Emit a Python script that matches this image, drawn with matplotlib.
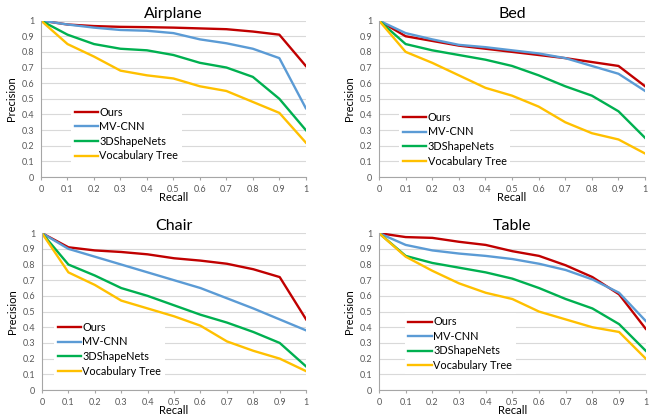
import matplotlib
matplotlib.use('Agg')
import matplotlib.pyplot as plt

plt.rcParams['font.family'] = ['Lato', 'DejaVu Sans']

recall = [0, 0.1, 0.2, 0.3, 0.4, 0.5, 0.6, 0.7, 0.8, 0.9, 1]
tick_labels = ['0', '0.1', '0.2', '0.3', '0.4', '0.5', '0.6', '0.7', '0.8', '0.9', '1']
methods = ['Ours', 'MV-CNN', '3DShapeNets', 'Vocabulary Tree']
colors = ['#C00000', '#5B9BD5', '#00B050', '#FFC000']

airplane = [
    [1, 0.975, 0.965, 0.96, 0.958, 0.955, 0.95, 0.945, 0.93, 0.91, 0.71],
    [1, 0.975, 0.955, 0.94, 0.935, 0.92, 0.88, 0.855, 0.82, 0.76, 0.44],
    [1, 0.91, 0.85, 0.82, 0.81, 0.78, 0.73, 0.70, 0.64, 0.50, 0.30],
    [1, 0.85, 0.77, 0.68, 0.65, 0.63, 0.58, 0.55, 0.48, 0.41, 0.22],
]
bed = [
    [1, 0.90, 0.87, 0.84, 0.82, 0.80, 0.78, 0.76, 0.735, 0.71, 0.58],
    [1, 0.92, 0.88, 0.845, 0.83, 0.81, 0.79, 0.76, 0.71, 0.66, 0.55],
    [1, 0.85, 0.81, 0.78, 0.75, 0.71, 0.65, 0.58, 0.52, 0.42, 0.25],
    [1, 0.80, 0.73, 0.65, 0.57, 0.52, 0.45, 0.35, 0.28, 0.24, 0.15],
]
chair = [
    [1, 0.91, 0.89, 0.88, 0.865, 0.84, 0.825, 0.805, 0.77, 0.72, 0.45],
    [1, 0.90, 0.85, 0.80, 0.75, 0.70, 0.65, 0.585, 0.52, 0.45, 0.38],
    [1, 0.80, 0.73, 0.65, 0.60, 0.54, 0.48, 0.43, 0.37, 0.30, 0.15],
    [1, 0.75, 0.67, 0.57, 0.52, 0.47, 0.41, 0.31, 0.25, 0.20, 0.12],
]
table = [
    [1, 0.975, 0.97, 0.945, 0.925, 0.885, 0.855, 0.795, 0.72, 0.61, 0.39],
    [1, 0.925, 0.89, 0.87, 0.855, 0.835, 0.805, 0.765, 0.705, 0.62, 0.44],
    [1, 0.855, 0.81, 0.78, 0.75, 0.71, 0.65, 0.58, 0.52, 0.42, 0.25],
    [1, 0.85, 0.76, 0.68, 0.62, 0.58, 0.50, 0.45, 0.40, 0.37, 0.20],
]

# (title, data, axes rect, legend anchor)
panels = [
    ('Airplane', airplane, [0.0632, 0.5745, 0.408, 0.376], (0.094, 0.505)),
    ('Bed', bed, [0.584, 0.5745, 0.41, 0.376], (0.056, 0.472)),
    ('Chair', chair, [0.0647, 0.0625, 0.407, 0.377], (0.026, 0.49)),
    ('Table', table, [0.584, 0.0625, 0.411, 0.377], (0.078, 0.525)),
]

fig = plt.figure(figsize=(6.49, 4.16), dpi=100)

for title, series, rect, leg_pos in panels:
    ax = fig.add_axes(rect)
    for vals, name, c in zip(series, methods, colors):
        ax.plot(recall, vals, color=c, linewidth=1.7, label=name)
    ax.set_xlim(0, 1)
    ax.set_ylim(0, 1)
    ax.set_xticks(recall)
    ax.set_xticklabels(tick_labels)
    ax.set_yticks(recall)
    ax.set_yticklabels(tick_labels)
    ax.grid(True, axis='y', color='#D9D9D9', linewidth=0.8)
    ax.set_axisbelow(True)
    for s in ['top', 'right']:
        ax.spines[s].set_visible(False)
    for s in ['left', 'bottom']:
        ax.spines[s].set_color('#A6A6A6')
        ax.spines[s].set_linewidth(0.8)
    ax.tick_params(axis='x', colors='#A6A6A6', labelcolor='#595959', labelsize=6.5,
                   length=2.5, width=0.8, pad=3)
    ax.tick_params(axis='y', colors='#A6A6A6', labelcolor='#595959', labelsize=6.5,
                   length=0, pad=5)
    ax.set_title(title, fontsize=11.5, pad=2)
    ax.set_xlabel('Recall', fontsize=8, labelpad=-1)
    ax.set_ylabel('Precision', fontsize=8, labelpad=3)
    ax.legend(loc='upper left', bbox_to_anchor=leg_pos, fontsize=7.8,
              frameon=True, facecolor='white', edgecolor='none', framealpha=1,
              fancybox=False, handlelength=2.2, handletextpad=0.1,
              labelspacing=0.33, borderpad=0.3)

fig.savefig('out.png', dpi=100)
